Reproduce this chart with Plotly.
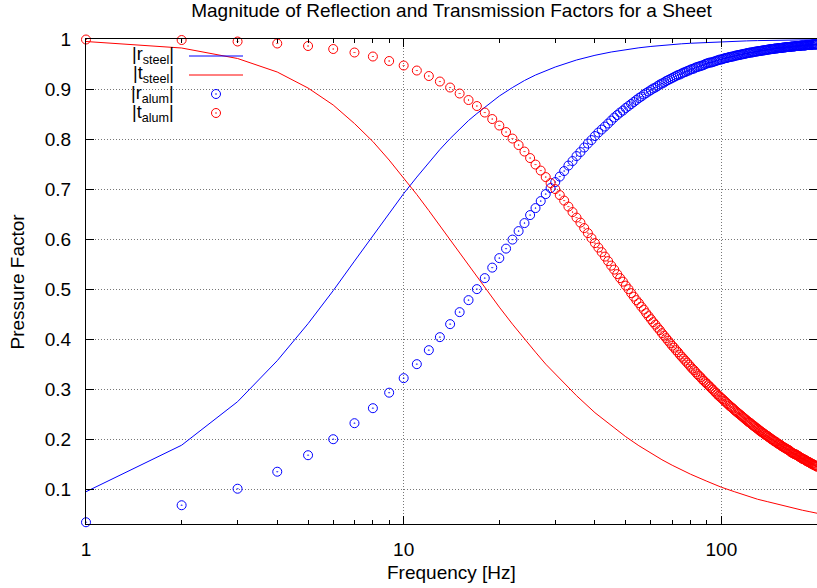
import math
import plotly.graph_objects as go

# ---------------- data ----------------
freq_alum = list(range(1, 201))

r_alum = [
    0.034, 0.068, 0.101, 0.135, 0.168, 0.200, 0.232, 0.262, 0.293, 0.322,
    0.350, 0.378, 0.404, 0.430, 0.454, 0.478, 0.500, 0.522, 0.543, 0.562,
    0.581, 0.599, 0.616, 0.632, 0.648, 0.662, 0.676, 0.690, 0.702, 0.714,
    0.725, 0.736, 0.747, 0.756, 0.766, 0.774, 0.783, 0.791, 0.798, 0.806,
    0.813, 0.819, 0.825, 0.831, 0.837, 0.843, 0.848, 0.853, 0.857, 0.862,
    0.866, 0.870, 0.874, 0.878, 0.882, 0.885, 0.889, 0.892, 0.895, 0.898,
    0.901, 0.903, 0.906, 0.909, 0.911, 0.913, 0.916, 0.918, 0.920, 0.922,
    0.924, 0.926, 0.928, 0.929, 0.931, 0.933, 0.934, 0.936, 0.937, 0.939,
    0.940, 0.941, 0.943, 0.944, 0.945, 0.946, 0.947, 0.948, 0.950, 0.951,
    0.952, 0.953, 0.953, 0.954, 0.955, 0.956, 0.957, 0.958, 0.959, 0.959,
    0.960, 0.961, 0.962, 0.962, 0.963, 0.964, 0.964, 0.965, 0.965, 0.966,
    0.967, 0.967, 0.968, 0.968, 0.969, 0.969, 0.970, 0.970, 0.971, 0.971,
    0.972, 0.972, 0.973, 0.973, 0.973, 0.974, 0.974, 0.975, 0.975, 0.975,
    0.976, 0.976, 0.976, 0.977, 0.977, 0.977, 0.978, 0.978, 0.978, 0.979,
    0.979, 0.979, 0.980, 0.980, 0.980, 0.980, 0.981, 0.981, 0.981, 0.981,
    0.982, 0.982, 0.982, 0.982, 0.982, 0.983, 0.983, 0.983, 0.983, 0.984,
    0.984, 0.984, 0.984, 0.984, 0.984, 0.985, 0.985, 0.985, 0.985, 0.985,
    0.986, 0.986, 0.986, 0.986, 0.986, 0.986, 0.986, 0.987, 0.987, 0.987,
    0.987, 0.987, 0.987, 0.987, 0.988, 0.988, 0.988, 0.988, 0.988, 0.988,
    0.988, 0.988, 0.989, 0.989, 0.989, 0.989, 0.989, 0.989, 0.989, 0.989,
]

t_alum = [
    0.999, 0.998, 0.995, 0.991, 0.986, 0.980, 0.973, 0.965, 0.956, 0.947,
    0.937, 0.926, 0.915, 0.903, 0.891, 0.878, 0.866, 0.853, 0.840, 0.827,
    0.814, 0.801, 0.788, 0.775, 0.762, 0.749, 0.737, 0.724, 0.712, 0.700,
    0.688, 0.677, 0.665, 0.654, 0.643, 0.633, 0.622, 0.612, 0.602, 0.592,
    0.583, 0.574, 0.565, 0.556, 0.547, 0.539, 0.530, 0.522, 0.515, 0.507,
    0.500, 0.492, 0.485, 0.478, 0.472, 0.465, 0.459, 0.452, 0.446, 0.440,
    0.434, 0.429, 0.423, 0.418, 0.412, 0.407, 0.402, 0.397, 0.392, 0.387,
    0.383, 0.378, 0.374, 0.369, 0.365, 0.361, 0.357, 0.353, 0.349, 0.345,
    0.341, 0.338, 0.334, 0.330, 0.327, 0.324, 0.320, 0.317, 0.314, 0.311,
    0.308, 0.305, 0.302, 0.299, 0.296, 0.293, 0.290, 0.287, 0.285, 0.282,
    0.280, 0.277, 0.275, 0.272, 0.270, 0.267, 0.265, 0.263, 0.261, 0.258,
    0.256, 0.254, 0.252, 0.250, 0.248, 0.246, 0.244, 0.242, 0.240, 0.238,
    0.236, 0.234, 0.233, 0.231, 0.229, 0.227, 0.226, 0.224, 0.222, 0.221,
    0.219, 0.217, 0.216, 0.214, 0.213, 0.211, 0.210, 0.208, 0.207, 0.206,
    0.204, 0.203, 0.201, 0.200, 0.199, 0.197, 0.196, 0.195, 0.194, 0.192,
    0.191, 0.190, 0.189, 0.188, 0.186, 0.185, 0.184, 0.183, 0.182, 0.181,
    0.180, 0.179, 0.178, 0.177, 0.175, 0.174, 0.173, 0.172, 0.171, 0.170,
    0.170, 0.169, 0.168, 0.167, 0.166, 0.165, 0.164, 0.163, 0.162, 0.161,
    0.160, 0.160, 0.159, 0.158, 0.157, 0.156, 0.155, 0.155, 0.154, 0.153,
    0.152, 0.151, 0.151, 0.150, 0.149, 0.148, 0.148, 0.147, 0.146, 0.145,
]

freq_steel = [1, 2, 3, 4, 5, 6, 7, 8, 9, 10, 11, 12, 13, 14, 15, 16, 17, 18, 19, 20,
              22, 24, 26, 28, 30, 35, 40, 45, 50, 55, 60, 65, 70, 75, 80,
              90, 100, 110, 120, 130, 140, 150, 160, 170, 180, 190, 200]

r_steel = [0.095, 0.188, 0.275, 0.357, 0.431, 0.497, 0.556, 0.607, 0.652, 0.691,
           0.724, 0.753, 0.779, 0.801, 0.820, 0.837, 0.851, 0.864, 0.876, 0.886,
           0.903, 0.917, 0.928, 0.937, 0.944,
           0.9580, 0.9674, 0.9740, 0.9788, 0.9824, 0.9851, 0.9873, 0.9890, 0.9904, 0.9915,
           0.9933, 0.9946, 0.9955, 0.9962, 0.9968, 0.9972, 0.9976, 0.9979, 0.9981,
           0.9983, 0.9985, 0.9986]

t_steel = [0.995, 0.982, 0.961, 0.934, 0.902, 0.868, 0.831, 0.795, 0.758, 0.723,
           0.689, 0.657, 0.627, 0.599, 0.572, 0.548, 0.524, 0.503, 0.483, 0.464,
           0.430, 0.400, 0.374, 0.350, 0.330,
           0.287, 0.253, 0.227, 0.205, 0.187, 0.172, 0.159, 0.148, 0.138, 0.130,
           0.116, 0.104, 0.095, 0.087, 0.080, 0.075, 0.070, 0.065, 0.061,
           0.058, 0.055, 0.052]

x_major_ticks = [1, 10, 100]
x_minor_ticks = [2, 3, 4, 5, 6, 7, 8, 9, 20, 30, 40, 50, 60, 70, 80, 90, 200]

legend_labels = ["|r<sub>steel</sub>|", "|t<sub>steel</sub>|",
                 "|r<sub>alum</sub>|", "|t<sub>alum</sub>|"]

# ---------------- styling / layout ----------------
W, H = 817, 588
ML, MR, MT, MB = 86, 0, 39, 64
PW, PH = W - ML - MR, H - MT - MB
FONT = "Liberation Sans, Arial, Helvetica, sans-serif"
BLUE, RED = "#0000ff", "#ff0000"

fig = go.Figure()
fig.add_trace(go.Scatter(x=freq_steel, y=r_steel, mode="lines",
                         line=dict(color=BLUE, width=1), showlegend=False))
fig.add_trace(go.Scatter(x=freq_steel, y=t_steel, mode="lines",
                         line=dict(color=RED, width=1), showlegend=False))
marker_style = dict(symbol="circle-open-dot", size=9)
fig.add_trace(go.Scatter(x=freq_alum, y=r_alum, mode="markers", cliponaxis=False,
                         marker=dict(**marker_style, color=BLUE, line=dict(width=1, color=BLUE)),
                         showlegend=False))
fig.add_trace(go.Scatter(x=freq_alum, y=t_alum, mode="markers", cliponaxis=False,
                         marker=dict(**marker_style, color=RED, line=dict(width=1, color=RED)),
                         showlegend=False))

# ---- hand-made gnuplot style key (text left, sample right) on a pixel overlay axis ----
key_rows_px = [56, 75, 94, 113]          # row centres (page px)
key_text_right_px = 176
key_sample_px = (189, 243)
key_colors = [BLUE, RED, BLUE, RED]
for i, (lab, yy, col) in enumerate(zip(legend_labels, key_rows_px, key_colors)):
    fig.add_annotation(text=lab, xref="paper", yref="paper",
                       x=(key_text_right_px - ML) / PW, y=1 - (yy - MT) / PH,
                       xanchor="right", yanchor="middle", showarrow=False,
                       font=dict(family=FONT, size=18, color="black"))
    if i < 2:
        fig.add_trace(go.Scatter(x=[key_sample_px[0] - ML, key_sample_px[1] - ML],
                                 y=[yy - MT, yy - MT], mode="lines", xaxis="x2", yaxis="y2",
                                 line=dict(color=col, width=1), showlegend=False,
                                 hoverinfo="skip"))
    else:
        fig.add_trace(go.Scatter(x=[(key_sample_px[0] + key_sample_px[1]) / 2 - ML],
                                 y=[yy - MT], mode="markers", xaxis="x2", yaxis="y2",
                                 marker=dict(**marker_style, color=col, line=dict(width=1, color=col)),
                                 showlegend=False, hoverinfo="skip"))

axis_common = dict(showline=True, linecolor="black", linewidth=1, mirror="ticks",
                   ticks="inside", tickcolor="black", tickwidth=1, ticklen=8,
                   showgrid=True, gridcolor="#777777", gridwidth=1, griddash="1px,2px",
                   zeroline=False, tickfont=dict(family=FONT, size=19, color="black"))

fig.update_layout(
    width=W, height=H,
    margin=dict(l=ML, r=MR, t=MT, b=MB, pad=0),
    paper_bgcolor="white", plot_bgcolor="white",
    font=dict(family=FONT, size=19, color="black"),
    title=dict(text="Magnitude of Reflection and Transmission Factors for a Sheet",
               x=(ML + PW / 2) / W, xanchor="center", xref="container",
               y=1 - 10.5 / H, yanchor="middle", yref="container",
               font=dict(family=FONT, size=19, color="black")),
    xaxis=dict(type="log", range=[0, math.log10(200)], tickmode="array",
               tickvals=x_major_ticks, ticktext=[str(v) for v in x_major_ticks],
               ticklabelstandoff=8,
               minor=dict(tickmode="array", tickvals=x_minor_ticks, ticks="inside",
                          ticklen=4, tickcolor="black", showgrid=False),
               **axis_common),
    yaxis=dict(range=[0.0305, 1.0], tickmode="linear", tick0=0, dtick=0.1,
               ticklabelstandoff=10, **axis_common),
    xaxis2=dict(overlaying="x", range=[0, PW], visible=False, fixedrange=True),
    yaxis2=dict(overlaying="y", range=[PH, 0], visible=False, fixedrange=True),
    showlegend=False,
)

fig.add_annotation(text="Frequency [Hz]", xref="paper", yref="paper",
                   x=0.5, y=-(572 - MT - PH) / PH, xanchor="center", yanchor="middle",
                   showarrow=False, font=dict(family=FONT, size=19, color="black"))
fig.add_annotation(text="Pressure Factor", xref="paper", yref="paper", textangle=-90,
                   x=(17 - ML) / PW, y=0.5, xanchor="center", yanchor="middle",
                   showarrow=False, font=dict(family=FONT, size=19, color="black"))

fig.write_html("out.html")
